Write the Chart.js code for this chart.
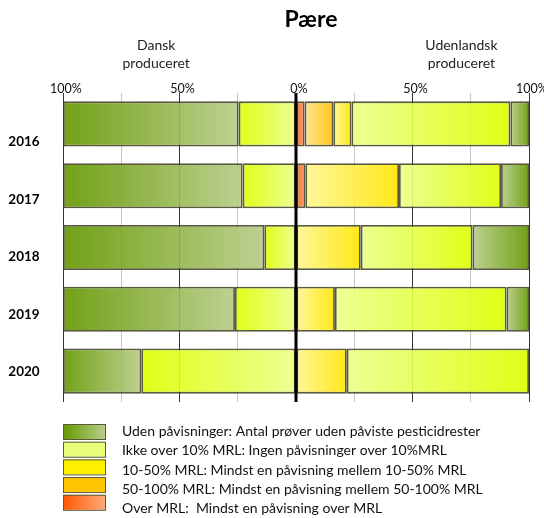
<!DOCTYPE html>
<html>
<head>
<meta charset="utf-8">
<script src="https://cdn.jsdelivr.net/npm/chart.js@4"></script>
<style>
  html, body { margin: 0; padding: 0; background: #fff; }
  #wrap { width: 544px; height: 518px; }
</style>
</head>
<body>
<div id="wrap"><canvas id="myChart"></canvas></div>
<script>
const years = ['2016', '2017', '2018', '2019', '2020'];

// Dansk produceret (drawn to the left), percent of samples
const dkOver = [0, 0, 0, 0, 0];
const dk50100 = [0, 0, 0, 0, 0];
const dk1050 = [0, 0, 0, 0, 0];
const dkIkke = [24.6, 22.9, 13.6, 26.2, 66.4];
const dkUden = [75.4, 77.1, 86.4, 73.8, 33.6];

// Udenlandsk produceret (drawn to the right)
const udOver = [3.7, 4.0, 0, 0, 0];
const ud50100 = [12.3, 0, 0, 0, 0];
const ud1050 = [7.8, 40.2, 27.8, 16.7, 21.8];
const udIkke = [68.2, 43.8, 48.0, 73.7, 78.2];
const udUden = [8.0, 12.0, 24.2, 9.6, 0];

const tickValues = [-100, -50, 0, 50, 100];
const sideLabels = [['Dansk', 'produceret'], ['Udenlandsk', 'produceret']];
const chartTitle = 'Pære';

const legendLabels = [
    'Uden påvisninger: Antal prøver uden påviste pesticidrester',
    'Ikke over 10% MRL: Ingen påvisninger over 10%MRL',
    '10-50% MRL: Mindst en påvisning mellem 10-50% MRL',
    '50-100% MRL: Mindst en påvisning mellem 50-100% MRL',
    'Over MRL:  Mindst en påvisning over MRL'
];

// from the zero line outwards
const classes = [
    {dk: dkOver, ud: udOver, inner: '#f06020e8', outer: '#ff9a60e8', legend: ['#ff5a00', '#ffa878']},
    {dk: dk50100, ud: ud50100, inner: '#ffe290e8', outer: '#ffc000e8', legend: ['#ffc400', '#ffc400']},
    {dk: dk1050, ud: ud1050, inner: '#fff690e8', outer: '#ffe600e8', legend: ['#fff000', '#fff000']},
    {dk: dkIkke, ud: udIkke, inner: '#ecff88e8', outer: '#dcff00e8', legend: ['#e8ff7c', '#e8ff7c']},
    {dk: dkUden, ud: udUden, inner: '#b6cc86e8', outer: '#649800e8', legend: ['#669a00', '#b8ce8a']}
];
const legendOrder = [4, 3, 2, 1, 0];

function buildData() {
    const rows = classes.map(() => []);
    years.forEach((year, i) => {
        let left = 0, right = 0;
        classes.forEach((c, k) => {
            const a = c.dk[i];
            if (a > 0) rows[k].push({y: year, x: [-(left + a), -left]});
            left += a;
            const b = c.ud[i];
            if (b > 0) rows[k].push({y: year, x: [right, right + b]});
            right += b;
        });
    });
    return rows;
}

const rows = buildData();

const datasets = classes.map((c, k) => ({
    label: legendLabels[legendOrder.indexOf(k)],
    data: rows[k],
    backgroundColor: (ctx) => {
        const chart = ctx.chart;
        if (!chart.chartArea || ctx.type !== 'data' || !ctx.raw) return c.outer;
        const sc = chart.scales.x;
        const [a, b] = ctx.raw.x;
        const inner = Math.abs(a) < Math.abs(b) ? a : b;
        const outer = inner === a ? b : a;
        const x0 = sc.getPixelForValue(inner), x1 = sc.getPixelForValue(outer);
        if (!isFinite(x0) || !isFinite(x1)) return c.outer;
        const g = chart.ctx.createLinearGradient(x0, 0, x1, 0);
        g.addColorStop(0, c.inner);
        g.addColorStop(1, c.outer);
        return g;
    },
    borderColor: 'rgba(60, 60, 30, 0.85)',
    borderWidth: 1.8,
    borderSkipped: false,
    grouped: false,
    barPercentage: 0.73,
    categoryPercentage: 1
}));

const font = 'Lato, "Open Sans", sans-serif';

const extras = {
    id: 'extras',
    beforeDraw(chart) {
        const ctx = chart.ctx;
        ctx.save();
        ctx.fillStyle = '#fff';
        ctx.fillRect(0, 0, chart.width, chart.height);
        ctx.restore();
    },
    afterDatasetsDraw(chart) {
        const {ctx, chartArea} = chart;
        const x0 = chart.scales.x.getPixelForValue(0);
        ctx.save();
        ctx.strokeStyle = '#000';
        ctx.lineWidth = 3;
        ctx.beginPath();
        ctx.moveTo(x0, chartArea.top);
        ctx.lineTo(x0, chartArea.bottom);
        ctx.stroke();
        ctx.restore();
    },
    afterDraw(chart) {
        const {ctx, chartArea} = chart;
        const xs = chart.scales.x, ys = chart.scales.y;
        ctx.save();
        ctx.fillStyle = '#000';
        ctx.textAlign = 'center';
        ctx.textBaseline = 'alphabetic';

        // title
        ctx.font = 'bold 23px ' + font;
        ctx.fillText(chartTitle, (chartArea.left + chartArea.right) / 2 + 15, 27);

        // side headers
        ctx.font = '14px ' + font;
        ctx.fillStyle = '#222';
        [-60, 71].forEach((v, s) => {
            const x = xs.getPixelForValue(v);
            ctx.fillText(sideLabels[s][0], x, 50);
            ctx.fillText(sideLabels[s][1], x, 68);
        });

        // year labels
        ctx.font = 'bold 13.5px ' + font;
        ctx.fillStyle = '#000';
        ctx.textBaseline = 'middle';
        const yFirst = ys.getPixelForValue(0) + 18;
        const yLast = ys.getPixelForValue(years.length - 1) + 1;
        years.forEach((yr, i) => {
            const y = yFirst + (yLast - yFirst) * i / (years.length - 1);
            ctx.fillText(yr, chartArea.left - 39, y);
        });

        // legend
        ctx.textAlign = 'left';
        ctx.font = '14px ' + font;
        legendOrder.forEach((k, i) => {
            const c = classes[k];
            const bx = chartArea.left, by = chartArea.bottom + 22 + i * 17.7;
            const g = ctx.createLinearGradient(bx, 0, bx + 42, 0);
            g.addColorStop(0, c.legend[0]);
            g.addColorStop(1, c.legend[1]);
            ctx.fillStyle = g;
            ctx.fillRect(bx, by, 42, 15);
            ctx.strokeStyle = '#5a5a3a';
            ctx.lineWidth = 1;
            ctx.strokeRect(bx + 0.5, by + 0.5, 42, 15);
            ctx.fillStyle = '#111';
            ctx.fillText(legendLabels[i], bx + 59, chartArea.bottom + 29.7 + i * 19.2);
        });
        ctx.restore();
    }
};

const config = {
    type: 'bar',
    data: {labels: years, datasets: datasets},
    options: {
        indexAxis: 'y',
        responsive: true,
        maintainAspectRatio: false,
        animation: false,
        layout: {padding: {left: 63, right: 15, top: 73, bottom: 116}},
        scales: {
            x: {
                position: 'top',
                min: -100,
                max: 100,
                afterBuildTicks: (axis) => {
                    axis.ticks = [-100, -75, -50, -25, 0, 25, 50, 75, 100].map(v => ({value: v}));
                },
                afterFit: (axis) => {
                    axis.height = 20;
                    axis.paddingLeft = 0;
                    axis.paddingRight = 0;
                },
                border: {display: false},
                grid: {
                    drawTicks: false,
                    lineWidth: 1,
                    color: (ctx) => {
                        const v = ctx.tick ? ctx.tick.value : 1;
                        if (v === 0) return 'rgba(0,0,0,0)';
                        return Math.abs(v) % 50 === 0 ? '#333' : '#c6c6c6';
                    }
                },
                ticks: {
                    autoSkip: false,
                    maxRotation: 0,
                    padding: -3,
                    labelOffset: 3,
                    color: '#111',
                    font: {family: font, size: 12.5},
                    callback: (v) => tickValues.includes(v) ? Math.abs(v) + '%' : ''
                }
            },
            y: {
                display: false,
                offset: true
            }
        },
        plugins: {
            legend: {display: false},
            title: {display: false},
            tooltip: {enabled: false}
        }
    },
    plugins: [extras]
};

const myChart = new Chart(document.getElementById('myChart'), config);
</script>
</body>
</html>
